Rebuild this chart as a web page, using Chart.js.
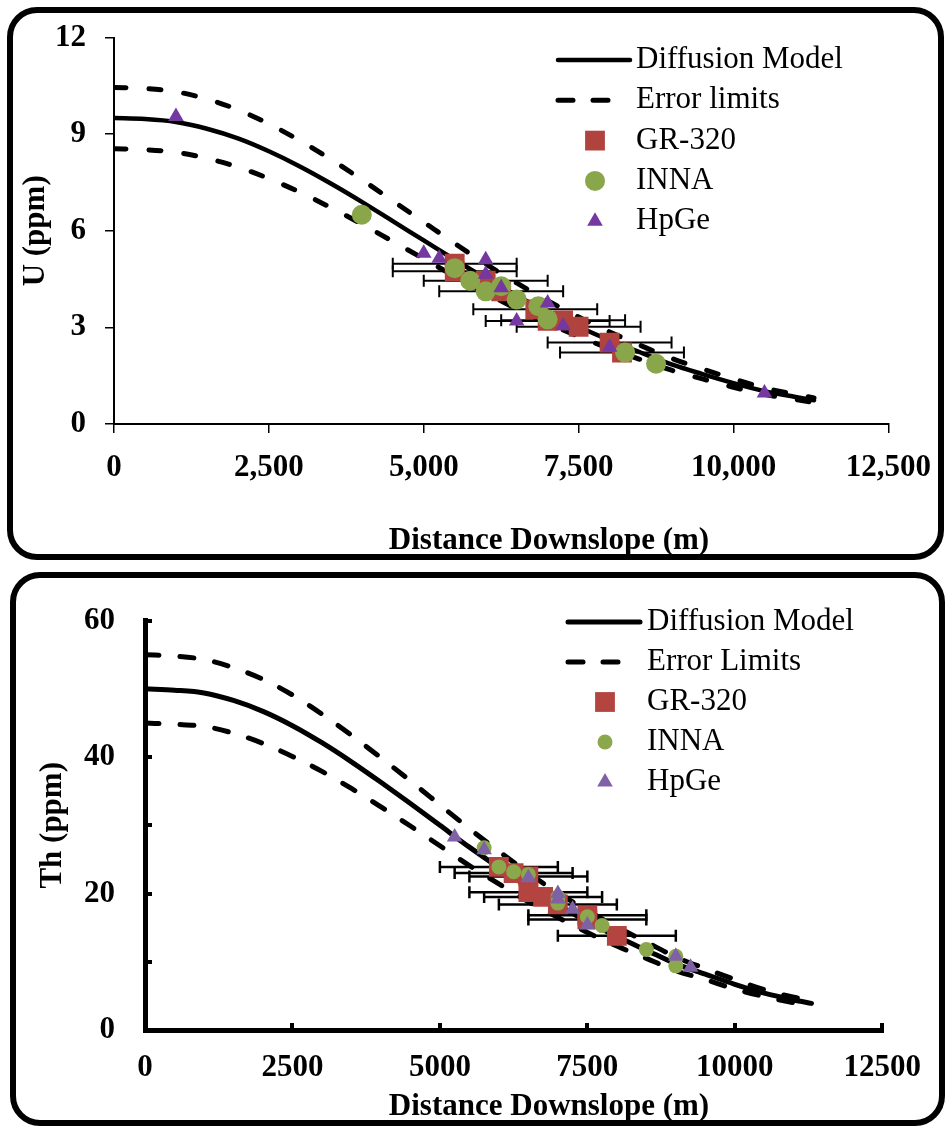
<!DOCTYPE html>
<html>
<head>
<meta charset="utf-8">
<script src="https://cdn.jsdelivr.net/npm/chart.js@4.4.0/dist/chart.umd.min.js"></script>
<style>
  html, body { margin: 0; padding: 0; background: #fff; }
  body { width: 947px; height: 1127px; position: relative; overflow: hidden; }
  canvas { position: absolute; left: 0; }
  #cU { top: 0; }
  #cTh { top: 565px; }
  .panel { position: absolute; box-sizing: border-box; border: 6px solid #000; border-radius: 30px; pointer-events: none; }
</style>
</head>
<body>
<canvas id="cU" width="947" height="565"></canvas>
<canvas id="cTh" width="947" height="562"></canvas>
<div class="panel" style="left:7px;top:7px;width:937px;height:553px"></div>
<div class="panel" style="left:10px;top:572px;width:935px;height:554px"></div>
<script>
const SERIF = "'Times New Roman', 'Liberation Serif', serif";
const X_TITLE = 'Distance Downslope (m)';

// distances used for the model curves (m)
const modelDist = [0, 500, 1000, 1500, 2000, 2500, 3000, 3500, 4000, 4500, 5000, 5500,
                   6000, 6500, 7000, 7500, 8000, 8500, 9000, 9500, 10000, 10500, 11000, 11300];

// ---- U panel ----
const uModel = [9.50, 9.47, 9.38, 9.17, 8.87, 8.47, 8.00, 7.47, 6.90, 6.30, 5.70, 5.10,
                4.52, 3.98, 3.48, 3.02, 2.60, 2.22, 1.85, 1.55, 1.27, 1.02, 0.84, 0.74];
const uUpper = [10.45, 10.42, 10.32, 10.09, 9.76, 9.32, 8.80, 8.22, 7.59, 6.93, 6.27, 5.61,
                4.97, 4.38, 3.83, 3.32, 2.86, 2.44, 2.04, 1.71, 1.40, 1.12, 0.92, 0.81];
const uLower = [8.55, 8.52, 8.44, 8.25, 7.98, 7.62, 7.20, 6.72, 6.21, 5.67, 5.13, 4.59,
                4.07, 3.58, 3.13, 2.72, 2.34, 2.00, 1.67, 1.40, 1.14, 0.92, 0.76, 0.67];
const grDistU = [5500, 5500, 6000, 6250, 6800, 7000, 7250, 7500, 8000, 8200];
const grU     = [4.98, 4.74, 4.45, 4.12, 3.56, 3.20, 3.22, 3.02, 2.53, 2.22];
const grErrU  = [1000, 1000, 1000, 1000, 1000, 1000, 1000, 1000, 1000, 1000];
const innaDistU = [4000, 5500, 5750, 6000, 6250, 6500, 6850, 7000, 8250, 8750];
const innaU     = [6.50, 4.84, 4.45, 4.12, 4.28, 3.87, 3.66, 3.25, 2.22, 1.87];
const hpgeDistU = [1000, 5000, 5250, 6000, 6000, 6250, 7000, 6500, 7250, 8000, 10500];
const hpgeU     = [9.55, 5.30, 5.15, 5.10, 4.65, 4.23, 3.76, 3.20, 3.05, 2.38, 0.96];
const xTicksU = ['0', '2,500', '5,000', '7,500', '10,000', '12,500'];
const yTicksU = ['0', '3', '6', '9', '12'];

// ---- Th panel ----
const thModel = [50.0, 49.8, 49.4, 48.3, 46.7, 44.6, 42.1, 39.3, 36.3, 33.2, 30.0, 26.8,
                 23.8, 20.9, 18.3, 15.9, 13.7, 11.7, 9.7, 8.2, 6.7, 5.4, 4.4, 3.9];
const thUpper = [55.0, 54.8, 54.3, 53.1, 51.4, 49.1, 46.3, 43.2, 39.9, 36.5, 33.0, 29.5,
                 26.2, 23.0, 20.1, 17.5, 15.1, 12.9, 10.7, 9.0, 7.4, 5.9, 4.8, 4.3];
const thLower = [45.0, 44.8, 44.5, 43.5, 42.0, 40.1, 37.9, 35.4, 32.7, 29.9, 27.0, 24.1,
                 21.4, 18.8, 16.5, 14.3, 12.3, 10.5, 8.7, 7.4, 6.0, 4.9, 4.0, 3.5];
const grDistTh = [6000, 6250, 6500, 6500, 6750, 7000, 7500, 7500, 8000];
const grTh     = [23.9, 23.0, 22.5, 20.2, 19.5, 18.4, 16.8, 16.2, 13.8];
const grErrTh  = [1000, 1000, 1000, 1000, 1000, 1000, 1000, 1000, 1000];
const innaDistTh = [5750, 6000, 6250, 6500, 7000, 7000, 7500, 7750, 8500, 9000, 9000];
const innaTh     = [26.7, 23.9, 23.2, 22.8, 19.5, 18.6, 16.6, 15.3, 11.8, 10.8, 9.4];
const hpgeDistTh = [5250, 5750, 6500, 7000, 7000, 7250, 7500, 9000, 9250];
const hpgeTh     = [28.3, 26.4, 22.3, 20.0, 19.2, 17.7, 15.4, 10.8, 9.2];
const xTicksTh = ['0', '2500', '5000', '7500', '10000', '12500'];
const yTicksTh = ['0', '', '20', '', '40', '', '60'];

const pts = (xs, ys) => xs.map((x, i) => ({ x: x, y: ys[i] }));

// horizontal error bars, drawn just before the dataset that carries xErr
const errorBars = {
    id: 'errorBars',
    beforeDatasetDraw(chart, args, opts) {
        const ds = chart.data.datasets[args.index];
        if (!ds.xErr) return;
        const ctx = chart.ctx, xs = chart.scales.x, ys = chart.scales.y;
        ctx.save();
        ctx.strokeStyle = '#000';
        ctx.lineWidth = opts.width;
        ds.data.forEach((p, i) => {
            const y = ys.getPixelForValue(p.y);
            const x0 = xs.getPixelForValue(p.x - ds.xErr[i]);
            const x1 = xs.getPixelForValue(p.x + ds.xErr[i]);
            ctx.beginPath();
            ctx.moveTo(x0, y); ctx.lineTo(x1, y);
            ctx.moveTo(x0, y - opts.cap); ctx.lineTo(x0, y + opts.cap);
            ctx.moveTo(x1, y - opts.cap); ctx.lineTo(x1, y + opts.cap);
            ctx.stroke();
        });
        ctx.restore();
    }
};

// legend box inside the plot, top right
const boxLegend = {
    id: 'boxLegend',
    afterDraw(chart, args, o) {
        const ctx = chart.ctx;
        ctx.save();
        o.items.forEach((it, i) => {
            const y = o.top + i * o.gap;
            const ds = chart.data.datasets[it.ds];
            if (it.kind === 'line') {
                ctx.beginPath();
                ctx.setLineDash(it.dash || []);
                ctx.lineWidth = ds.borderWidth;
                ctx.strokeStyle = ds.borderColor;
                ctx.lineCap = 'round';
                ctx.moveTo(o.lineX0, y);
                ctx.lineTo(it.end || o.lineX1, y);
                ctx.stroke();
            } else {
                ctx.setLineDash([]);
                ctx.fillStyle = ds.backgroundColor;
                ctx.strokeStyle = ds.backgroundColor;
                Chart.helpers.drawPoint(ctx, { pointStyle: ds.pointStyle, radius: ds.pointRadius, borderWidth: 0, rotation: 0 }, o.markX, y);
            }
            ctx.fillStyle = '#000';
            ctx.font = o.font;
            ctx.textBaseline = 'middle';
            ctx.textAlign = 'left';
            ctx.fillText(it.text, o.textX, y);
        });
        ctx.restore();
    }
};

// x axis title, placed off-centre like in the source figure
const axisTitle = {
    id: 'axisTitle',
    afterDraw(chart, args, o) {
        const ctx = chart.ctx;
        ctx.save();
        ctx.font = o.font;
        ctx.fillStyle = '#000';
        ctx.textAlign = 'center';
        ctx.textBaseline = 'middle';
        ctx.fillText(o.text, o.x, o.y);
        ctx.restore();
    }
};

function lineSet(label, data, width, dash) {
    return {
        label: label, data: data, showLine: true, pointRadius: 0, borderColor: '#000',
        borderWidth: width, borderDash: dash, borderCapStyle: 'round', fill: false,
        cubicInterpolationMode: 'monotone', order: 10
    };
}

function markSet(label, data, style, radius, color, order) {
    return {
        label: label, data: data, pointStyle: style, pointRadius: radius, pointHoverRadius: radius,
        backgroundColor: color, borderColor: color, borderWidth: 0, showLine: false, order: order
    };
}

function makeChart(id, c) {
    const bold = { family: SERIF, size: 31, weight: 'bold' };
    return new Chart(document.getElementById(id), {
        type: 'scatter',
        data: { datasets: c.datasets },
        options: {
            responsive: false,
            animation: false,
            devicePixelRatio: 1,
            layout: { padding: c.padding },
            plugins: {
                legend: { display: false },
                tooltip: { enabled: false },
                errorBars: { width: c.barWidth, cap: 6 },
                boxLegend: c.legend,
                axisTitle: { text: X_TITLE, x: 549, y: c.xTitleY, font: 'bold 31px ' + SERIF }
            },
            scales: {
                x: {
                    type: 'linear', min: 0, max: 12500,
                    afterFit: (s) => { s.height = c.xHeight; },
                    grid: { drawOnChartArea: false, drawTicks: true, tickLength: c.tickLen, color: '#000', lineWidth: c.tickWidth },
                    border: { display: true, color: '#000', width: c.axisWidth },
                    ticks: { stepSize: 2500, autoSkip: false, maxRotation: 0, color: '#000', font: bold, padding: c.xPad,
                             callback: (v) => c.xLabels[Math.round(v / 2500)] },
                    title: { display: false }
                },
                y: {
                    type: 'linear', min: 0, max: c.yMax,
                    afterFit: (s) => { s.width = c.yWidth; },
                    grid: { drawOnChartArea: false, drawTicks: true, tickLength: c.tickLen, color: '#000', lineWidth: c.tickWidth },
                    border: { display: true, color: '#000', width: c.axisWidth },
                    ticks: { stepSize: c.yStep, autoSkip: false, color: '#000', font: bold, padding: c.yPad,
                             callback: (v) => c.yLabels[Math.round(v / c.yStep)] },
                    title: { display: true, text: c.yTitle, color: '#000', font: bold, padding: { top: c.yTitlePad, bottom: 0 } }
                }
            }
        },
        plugins: [errorBars, boxLegend, axisTitle]
    });
}

const legendFont = "31px " + SERIF;

const uSets = [
    lineSet('Diffusion Model', pts(modelDist, uModel), 4.5, []),
    lineSet('Error limits', pts(modelDist, uUpper), 5, [12, 23]),
    lineSet('Error limits', pts(modelDist, uLower), 5, [12, 23]),
    Object.assign(markSet('GR-320', pts(grDistU, grU), 'rect', 14, '#B1433F', 3), { xErr: grErrU }),
    markSet('INNA', pts(innaDistU, innaU), 'circle', 10, '#8AA64A', 2),
    markSet('HpGe', pts(hpgeDistU, hpgeU), 'triangle', 9, '#7438A0', 1)
];

makeChart('cU', {
    datasets: uSets,
    padding: { top: 34, right: 54, bottom: 0, left: 0 },
    xHeight: 141, yWidth: 114, yMax: 12, yStep: 3,
    xLabels: xTicksU, yLabels: yTicksU, yTitle: 'U (ppm)',
    tickLen: 9, tickWidth: 1.5, axisWidth: 2, barWidth: 2,
    xPad: 16, yPad: 19, xTitleY: 541, yTitlePad: 17,
    legend: {
        top: 60, gap: 40.3, lineX0: 558, lineX1: 630, markX: 595, textX: 636, font: legendFont,
        items: [
            { text: 'Diffusion Model', kind: 'line', ds: 0 },
            { text: 'Error limits', kind: 'line', ds: 1, dash: [15, 20], end: 613 },
            { text: 'GR-320', kind: 'point', ds: 3 },
            { text: 'INNA', kind: 'point', ds: 4 },
            { text: 'HpGe', kind: 'point', ds: 5 }
        ]
    }
});

const thSets = [
    lineSet('Diffusion Model', pts(modelDist, thModel), 5, []),
    lineSet('Error Limits', pts(modelDist, thUpper), 5, [14, 21]),
    lineSet('Error Limits', pts(modelDist, thLower), 5, [14, 21]),
    Object.assign(markSet('GR-320', pts(grDistTh, grTh), 'rect', 14, '#B4443F', 3), { xErr: grErrTh }),
    markSet('INNA', pts(innaDistTh, innaTh), 'circle', 7.5, '#8BA84C', 2),
    markSet('HpGe', pts(hpgeDistTh, hpgeTh), 'triangle', 9, '#7E62A5', 1)
];

makeChart('cTh', {
    datasets: thSets,
    padding: { top: 30, right: 53, bottom: 0, left: 0 },
    xHeight: 97, yWidth: 145, yMax: 60, yStep: 10,
    xLabels: xTicksTh, yLabels: yTicksTh, yTitle: 'Th (ppm)',
    tickLen: -7, tickWidth: 4, axisWidth: 5, barWidth: 2.5,
    xPad: 26, yPad: 37, xTitleY: 542, yTitlePad: 34,
    legend: {
        top: 57, gap: 40, lineX0: 568, lineX1: 640, markX: 605, textX: 647, font: legendFont,
        items: [
            { text: 'Diffusion Model', kind: 'line', ds: 0 },
            { text: 'Error Limits', kind: 'line', ds: 1, dash: [15, 20], end: 623 },
            { text: 'GR-320', kind: 'point', ds: 3 },
            { text: 'INNA', kind: 'point', ds: 4 },
            { text: 'HpGe', kind: 'point', ds: 5 }
        ]
    }
});
</script>
</body>
</html>
